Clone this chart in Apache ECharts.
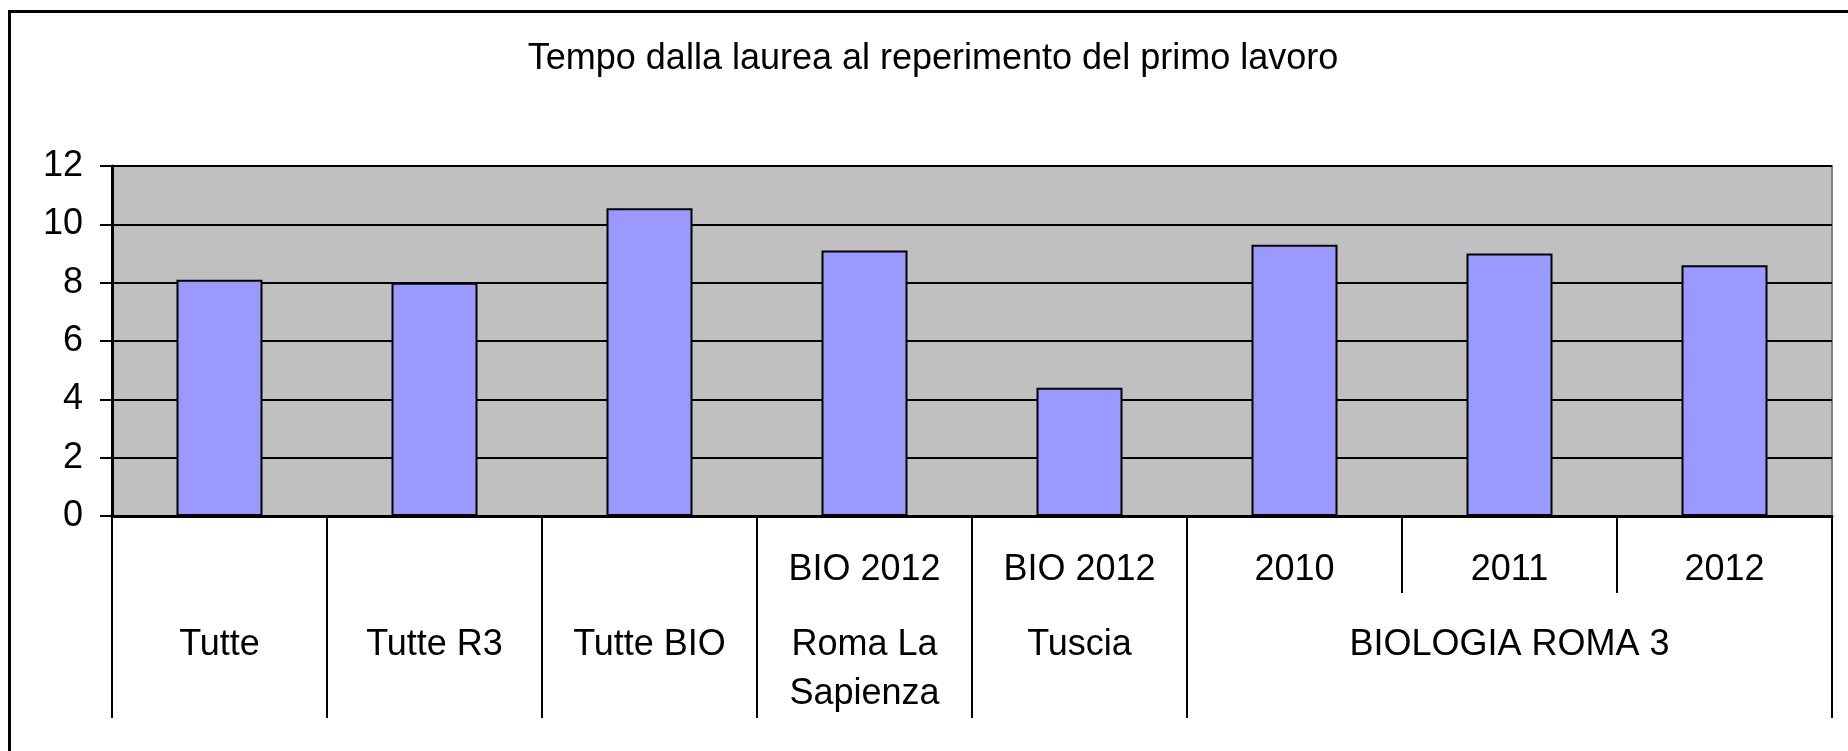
<!DOCTYPE html>
<html>
<head>
<meta charset="utf-8">
<title>Tempo dalla laurea al reperimento del primo lavoro</title>
<script src="https://cdn.jsdelivr.net/npm/echarts@6/dist/echarts.min.js"></script>
<style>
  html, body { margin: 0; padding: 0; background: #fff; }
  #chart { width: 1848px; height: 751px; }
</style>
</head>
<body>
<div id="chart"></div>
<script>
// Categories (unique keys) and the two rows of labels shown under the axis
const categories = ['Tutte', 'Tutte R3', 'Tutte BIO', 'Sapienza 2012', 'Tuscia 2012', 'R3 2010', 'R3 2011', 'R3 2012'];
const subLabels = ['', '', '', 'BIO 2012', 'BIO 2012', '2010', '2011', '2012'];
const groupLabels = ['Tutte', 'Tutte R3', 'Tutte BIO', 'Roma La\nSapienza', 'Tuscia', '', 'BIOLOGIA ROMA 3', ''];
// Months from graduation to first job
const values = [8.1, 8.0, 10.55, 9.1, 4.4, 9.3, 9.0, 8.6];
// Value axis range
const yMin = 0, yMax = 12, yStep = 2;

const FONT = 'Liberation Sans, Arial, sans-serif';
const FS = 36;
const chart = echarts.init(document.getElementById('chart'), null, { renderer: 'canvas' });

chart.setOption({
  animation: false,
  backgroundColor: '#ffffff',
  title: {
    text: 'Tempo dalla laurea al reperimento del primo lavoro',
    left: 933,
    top: 39,
    textAlign: 'center',
    padding: 0,
    textStyle: { fontFamily: FONT, fontSize: FS, fontWeight: 'normal', color: '#000', lineHeight: 40 }
  },
  graphic: [{
    type: 'rect',
    z: -10,
    shape: { x: 9.5, y: 11.5, width: 1900, height: 800 },
    style: { fill: 'none', stroke: '#000', lineWidth: 3 }
  }],
  grid: {
    left: 112, right: 16, top: 166, bottom: 235,
    show: true,
    backgroundColor: '#c0c0c0',
    borderColor: '#808080',
    borderWidth: 2,
    containLabel: false,
    outerBoundsMode: 'none'
  },
  xAxis: [{
    type: 'category',
    data: categories,
    position: 'bottom',
    boundaryGap: true,
    axisLine: { show: true, lineStyle: { color: '#000', width: 3 } },
    axisTick: { show: true, interval: 0, length: 77, lineStyle: { color: '#000', width: 2 } },
    axisLabel: {
      interval: 0, margin: 34,
      formatter: (v, i) => subLabels[i],
      fontFamily: FONT, fontSize: FS, color: '#000', lineHeight: 40
    },
    splitLine: { show: false }
  }, {
    type: 'category',
    data: categories,
    position: 'bottom',
    offset: 0,
    boundaryGap: true,
    axisLine: { show: false },
    axisTick: {
      show: true, length: 202,
      interval: (i) => i <= 5,
      lineStyle: { color: '#000', width: 2 }
    },
    axisLabel: {
      interval: 0, margin: 105,
      formatter: (v, i) => groupLabels[i],
      fontFamily: FONT, fontSize: FS, color: '#000', lineHeight: 49
    },
    splitLine: { show: false }
  }],
  yAxis: {
    type: 'value',
    min: yMin, max: yMax, interval: yStep,
    axisLine: { show: true, lineStyle: { color: '#000', width: 3 } },
    axisTick: { show: true, length: 12, lineStyle: { color: '#000', width: 2 } },
    axisLabel: { margin: 29, fontFamily: FONT, fontSize: FS, color: '#000' },
    splitLine: { show: true, lineStyle: { color: '#000', width: 2 } }
  },
  series: [{
    type: 'bar',
    xAxisIndex: 0,
    data: values,
    barWidth: '40%',
    itemStyle: { color: '#9999ff', borderColor: '#000', borderWidth: 2 }
  }]
});
</script>
</body>
</html>
